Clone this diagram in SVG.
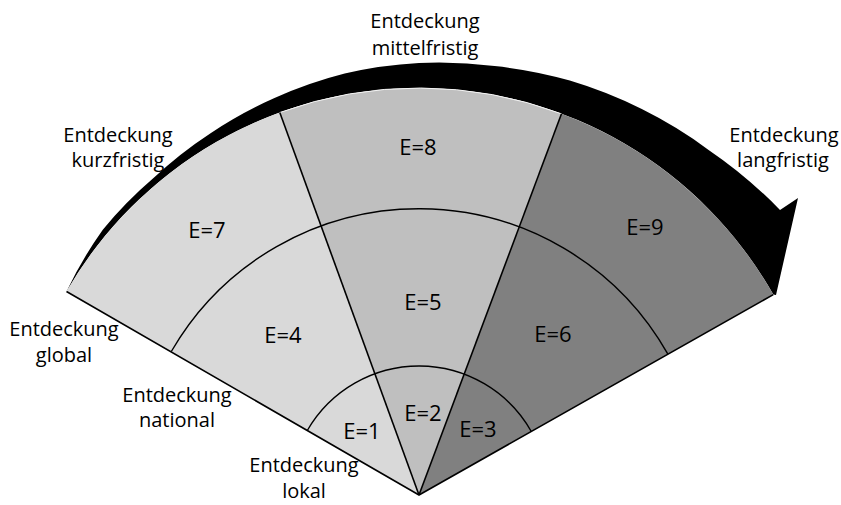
<svg xmlns="http://www.w3.org/2000/svg" width="841" height="505" viewBox="0 0 841 505">
  <style>
    .axis { font-family: "Open Sans", "Liberation Sans", sans-serif; font-size: 20px; fill: #000; text-anchor: middle; }
    .cell { font-family: "Open Sans", "Liberation Sans", sans-serif; font-size: 22px; fill: #000; text-anchor: middle; }
    .rule { fill: none; stroke: #000; stroke-width: 1.6; stroke-linejoin: round; }
    .ring { fill: none; stroke: #000; stroke-width: 1.4; }
  </style>

  <!-- curved time arrow running along the outer rim -->
  <g id="time-arrow">
    <path fill="#000" d="M66.5,291.5
      A410,410 0 0 1 102.8,229.7
      A413,413 0 0 1 153.2,178.3
      A416,416 0 0 1 210.2,133.4
      A420,420 0 0 1 274.5,98
      A425,425 0 0 1 344.7,73.5
      A430,430 0 0 1 419,63
      A434,434 0 0 1 494.6,66.1
      A438,438 0 0 1 569.8,80.6
      A443,443 0 0 1 641.8,109.1
      A448,448 0 0 1 708.6,149.9
      A455,455 0 0 1 780,210
      L798,198 L776,295 L773.3,294.6
      A407,407 0 0 0 66.5,291.5 Z"/>
  </g>

  <!-- three time sectors -->
  <g id="sector-kurzfristig">
    <path fill="#d9d9d9" d="M419,495 L66.5,291.5 A407,407 0 0 1 279.8,112.5 Z"/>
  </g>
  <g id="sector-mittelfristig">
    <path fill="#bfbfbf" d="M419,495 L279.8,112.5 A407,407 0 0 1 561.5,113.8 Z"/>
    <path fill="none" stroke="#f4f4f4" stroke-width="1" d="M279.8,112.5 A407,407 0 0 1 561.5,113.8"/>
  </g>
  <g id="sector-langfristig">
    <path fill="#808080" d="M419,495 L561.5,113.8 A407,407 0 0 1 773.3,294.6 Z"/>
  </g>

  <!-- dividing lines and rings -->
  <g id="connectors">
    <path class="rule" d="M66.5,291.5 L419,495 L773.3,294.6"/>
    <path class="rule" d="M419,495 L279.8,112.5"/>
    <path class="rule" d="M419,495 L561.5,113.8"/>
    <path class="ring" d="M307.3,430.5 A129,129 0 0 1 531.3,431.5"/>
    <path class="ring" d="M171.3,351.5 A286,286 0 0 1 667.9,354.2"/>
  </g>

  <!-- cell values -->
  <g id="cell-1"><text class="cell" x="362" y="439">E=1</text></g>
  <g id="cell-2"><text class="cell" x="423" y="421">E=2</text></g>
  <g id="cell-3"><text class="cell" x="478" y="437">E=3</text></g>
  <g id="cell-4"><text class="cell" x="283" y="343">E=4</text></g>
  <g id="cell-5"><text class="cell" x="423" y="310">E=5</text></g>
  <g id="cell-6"><text class="cell" x="553" y="342">E=6</text></g>
  <g id="cell-7"><text class="cell" x="207" y="238">E=7</text></g>
  <g id="cell-8"><text class="cell" x="418" y="155">E=8</text></g>
  <g id="cell-9"><text class="cell" x="645" y="235">E=9</text></g>

  <!-- axis captions -->
  <g id="label-kurzfristig">
    <text class="axis" x="118" y="142">Entdeckung</text>
    <text class="axis" x="118" y="167">kurzfristig</text>
  </g>
  <g id="label-mittelfristig">
    <text class="axis" x="425" y="28">Entdeckung</text>
    <text class="axis" x="425" y="55">mittelfristig</text>
  </g>
  <g id="label-langfristig">
    <text class="axis" x="784" y="142">Entdeckung</text>
    <text class="axis" x="783" y="167">langfristig</text>
  </g>
  <g id="label-global">
    <text class="axis" x="64" y="336">Entdeckung</text>
    <text class="axis" x="64" y="362">global</text>
  </g>
  <g id="label-national">
    <text class="axis" x="177" y="402">Entdeckung</text>
    <text class="axis" x="177" y="427">national</text>
  </g>
  <g id="label-lokal">
    <text class="axis" x="304" y="472">Entdeckung</text>
    <text class="axis" x="304" y="498">lokal</text>
  </g>
</svg>
